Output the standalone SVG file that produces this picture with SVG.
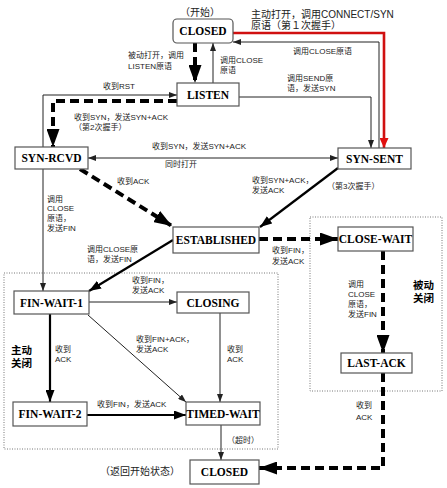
<svg xmlns="http://www.w3.org/2000/svg" width="447" height="488" viewBox="0 0 447 488">
<defs>
<style>
.node rect{fill:#fff;stroke:#555;stroke-width:1.2}
.nt{font-family:"Liberation Serif","Times New Roman",serif;font-weight:bold;font-size:11.5px;text-anchor:middle;fill:#000}
.lb{font-family:"Liberation Sans","Noto Sans CJK SC",sans-serif;font-size:8px;fill:#222}
.big{font-family:"Liberation Sans","Noto Sans CJK SC",sans-serif;font-size:10px;fill:#222}
.bold{font-family:"Liberation Sans","Noto Sans CJK SC",sans-serif;font-size:10.5px;font-weight:bold;fill:#000}
.thin{fill:none;stroke:#222;stroke-width:1}
.med{fill:none;stroke:#000;stroke-width:2.2}
.dash{fill:none;stroke:#000;stroke-width:4;stroke-dasharray:9 5}
.red{fill:none;stroke:#d01010;stroke-width:2.6}
.box{fill:none;stroke:#777;stroke-width:1;stroke-dasharray:1 1.5}
</style>
<marker id="a" markerUnits="userSpaceOnUse" markerWidth="8" markerHeight="6" refX="8" refY="3" orient="auto-start-reverse"><path d="M0,0 L8,3 L0,6 z" fill="#222"/></marker>
<marker id="m" markerUnits="userSpaceOnUse" markerWidth="12" markerHeight="9" refX="12" refY="4.5" orient="auto"><path d="M0,0 L12,4.5 L0,9 z" fill="#000"/></marker>
<marker id="b" markerUnits="userSpaceOnUse" markerWidth="18" markerHeight="13" refX="18" refY="6.5" orient="auto"><path d="M0,0 L18,6.5 L0,13 z" fill="#000"/></marker>
<marker id="r" markerUnits="userSpaceOnUse" markerWidth="10" markerHeight="9" refX="10" refY="4.5" orient="auto"><path d="M0,0 L10,4.5 L0,9 z" fill="#e01010"/></marker>
</defs>
<rect width="447" height="488" fill="#fff"/>

<g id="regions">
<rect class="box" x="4" y="273" width="274" height="176"/>
<rect class="box" x="310" y="217" width="132" height="174"/>
</g>

<g id="connectors">
<path class="dash" d="M195,43 V83" marker-end="url(#b)"/>
<path class="thin" d="M213,83 V43" marker-end="url(#a)"/>
<path class="red" d="M233,33 H384 V148" marker-end="url(#r)"/>
<path class="thin" d="M379,148 V42 H233" marker-end="url(#a)"/>
<path class="thin" d="M239,97 H371 V148" marker-end="url(#a)"/>
<path class="thin" d="M43,147 V95 H177" marker-end="url(#a)"/>
<path class="dash" d="M177,101 H53 V147" marker-end="url(#b)"/>
<path class="thin" d="M88,158 H338" marker-start="url(#a)" marker-end="url(#a)"/>
<path class="dash" d="M80,169 L172,226" marker-end="url(#b)"/>
<path class="med" d="M338,168 L260,227" marker-end="url(#m)"/>
<path class="thin" d="M43,169 V291" marker-end="url(#a)"/>
<path class="med" d="M173,240 L89,291" marker-end="url(#m)"/>
<path class="dash" d="M259,239 H338" marker-end="url(#b)"/>
<path class="dash" d="M383,251 V353" marker-end="url(#b)"/>
<path class="dash" d="M383,373 V468 H259" marker-end="url(#b)"/>
<path class="thin" d="M89,302 H177" marker-end="url(#a)"/>
<path class="med" d="M50,314 V402" marker-end="url(#m)"/>
<path class="thin" d="M88,315 L186,402" marker-end="url(#a)"/>
<path class="thin" d="M220,313 V402" marker-end="url(#a)"/>
<path class="med" d="M87,415 H186" marker-end="url(#m)"/>
<path class="thin" d="M221,425 V460" marker-end="url(#a)"/>
</g>

<g id="labels">
<text class="big" x="200" y="16" text-anchor="middle" font-size="12">（开始）</text>
<text class="big" x="251" y="18">主动打开，调用CONNECT/SYN</text>
<text class="big" x="251" y="29">原语（第１次握手）</text>
<text class="lb" x="128" y="58">被动打开，调用</text>
<text class="lb" x="128" y="69">LISTEN原语</text>
<text class="lb" x="220" y="63">调用CLOSE</text>
<text class="lb" x="220" y="73">原语</text>
<text class="lb" x="293" y="54">调用CLOSE原语</text>
<text class="lb" x="287" y="81">调用SEND原</text>
<text class="lb" x="287" y="91">语，发送SYN</text>
<text class="lb" x="103" y="89">收到RST</text>
<text class="lb" x="74" y="120">收到SYN，发送SYN+ACK</text>
<text class="lb" x="74" y="130">（第2次握手）</text>
<text class="lb" x="152" y="149">收到SYN，发送SYN+ACK</text>
<text class="lb" x="165" y="167">同时打开</text>
<text class="lb" x="117" y="184">收到ACK</text>
<text class="lb" x="252" y="183">收到SYN+ACK，</text>
<text class="lb" x="252" y="193">发送ACK</text>
<text class="lb" x="327" y="189">（第3次握手）</text>
<text class="lb" x="47" y="202">调用</text>
<text class="lb" x="47" y="211">CLOSE</text>
<text class="lb" x="47" y="221">原语，</text>
<text class="lb" x="47" y="231">发送FIN</text>
<text class="lb" x="87" y="252">调用CLOSE原</text>
<text class="lb" x="87" y="262">语，发送FIN</text>
<text class="lb" x="272" y="253">收到FIN，</text>
<text class="lb" x="272" y="264">发送ACK</text>
<text class="lb" x="132" y="283">收到FIN，</text>
<text class="lb" x="132" y="293">发送ACK</text>
<text class="bold" x="11" y="354">主动</text>
<text class="bold" x="11" y="367">关闭</text>
<text class="lb" x="55" y="352">收到</text>
<text class="lb" x="55" y="362">ACK</text>
<text class="lb" x="136" y="342">收到FIN+ACK，</text>
<text class="lb" x="136" y="352">发送ACK</text>
<text class="lb" x="227" y="352">收到</text>
<text class="lb" x="227" y="362">ACK</text>
<text class="lb" x="348" y="287">调用</text>
<text class="lb" x="348" y="297">CLOSE</text>
<text class="lb" x="348" y="307">原语，</text>
<text class="lb" x="348" y="317">发送FIN</text>
<text class="bold" x="413" y="289">被动</text>
<text class="bold" x="413" y="302">关闭</text>
<text class="lb" x="97" y="407">收到FIN，发送ACK</text>
<text class="lb" x="227" y="443">（超时）</text>
<text class="lb" x="356" y="408">收到</text>
<text class="lb" x="356" y="420">ACK</text>
<text class="big" x="100" y="475" font-size="11">（返回开始状态）</text>
</g>

<g id="closed-top" class="node"><rect x="173" y="19" width="60" height="24" rx="4"/><text class="nt" x="203" y="35" font-weight="normal" font-size="11">CLOSED</text></g>
<g id="listen" class="node"><rect x="177" y="83" width="62" height="23"/><text class="nt" x="208" y="99">LISTEN</text></g>
<g id="syn-rcvd" class="node"><rect x="15" y="147" width="73" height="22"/><text class="nt" x="51.5" y="162">SYN-RCVD</text></g>
<g id="syn-sent" class="node"><rect x="338" y="148" width="73" height="21"/><text class="nt" x="374.5" y="162.5">SYN-SENT</text></g>
<g id="established" class="node"><rect x="173" y="227" width="86" height="26"/><text class="nt" x="216" y="244">ESTABLISHED</text></g>
<g id="close-wait" class="node"><rect x="338" y="227" width="75" height="24"/><text class="nt" x="375.5" y="243">CLOSE-WAIT</text></g>
<g id="fin-wait-1" class="node"><rect x="14" y="291" width="75" height="23"/><text class="nt" x="51.5" y="306.5">FIN-WAIT-1</text></g>
<g id="closing" class="node"><rect x="177" y="292" width="72" height="21"/><text class="nt" x="213" y="306.5">CLOSING</text></g>
<g id="last-ack" class="node"><rect x="341" y="353" width="71" height="20"/><text class="nt" x="376.5" y="367">LAST-ACK</text></g>
<g id="fin-wait-2" class="node"><rect x="13" y="402" width="74" height="24"/><text class="nt" x="50" y="418">FIN-WAIT-2</text></g>
<g id="timed-wait" class="node"><rect x="186" y="402" width="74" height="23"/><text class="nt" x="223" y="417.5" font-size="11">TIMED-WAIT</text></g>
<g id="closed-bottom" class="node"><rect x="190" y="460" width="69" height="24"/><text class="nt" x="224.5" y="476">CLOSED</text></g>
</svg>
